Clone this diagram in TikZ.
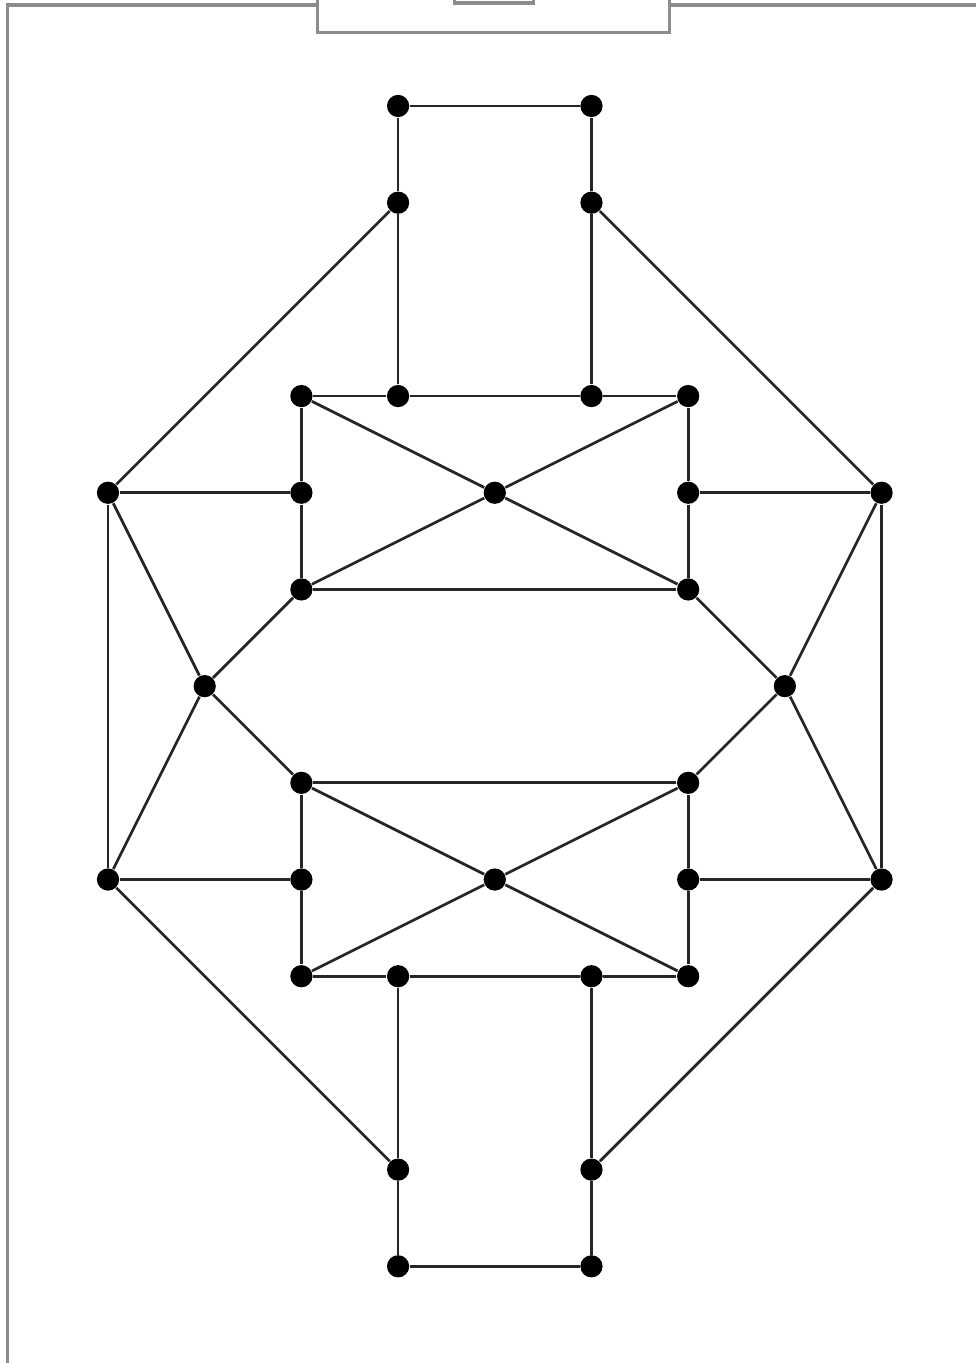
\documentclass[tikz,border=0pt]{standalone}
\usepackage{tikz}
\usepackage{xcolor}

\begin{document}
\begin{tikzpicture}[dot/.style={circle,fill=black,inner sep=0pt,minimum size=0.23cm},
  edge/.style={line width=0.8pt,black!85},
  frame/.style={line width=0.9pt,black!45}]
\useasboundingbox (-1.117,1.096) rectangle (8.976,-13.0);
% page frame
\draw[frame] (-1.044,-13.0) -- (-1.044,1.044) -- (2.17,1.044);
\draw[frame] (5.81,1.044) -- (8.976,1.044);
\draw[frame] (2.17,1.096) -- (2.17,0.755) -- (5.81,0.755) -- (5.81,1.096);
\draw[frame] (3.58,1.096) -- (3.58,1.065) -- (4.40,1.065) -- (4.40,1.096);
% vertices
\foreach \x/\y in {3/0,5/0,3/1,5/1,2/3,3/3,5/3,6/3,0/4,2/4,4/4,6/4,8/4,2/5,6/5,1/6,7/6,
  2/7,6/7,0/8,2/8,4/8,6/8,8/8,2/9,3/9,5/9,6/9,3/11,5/11,3/12,5/12}
  \node[dot] (p\x-\y) at (\x,-\y) {};
% edges
\foreach \a/\b in {3-0/5-0,3-0/3-1,5-0/5-1,3-1/3-3,5-1/5-3,3-1/0-4,5-1/8-4,
  2-3/3-3,3-3/5-3,5-3/6-3,2-3/2-4,2-4/2-5,6-3/6-4,6-4/6-5,
  2-3/4-4,4-4/6-5,6-3/4-4,4-4/2-5,2-5/6-5,0-4/2-4,6-4/8-4,
  0-4/0-8,8-4/8-8,0-4/1-6,1-6/2-5,1-6/0-8,1-6/2-7,
  8-4/7-6,7-6/6-5,7-6/8-8,7-6/6-7,
  2-7/6-7,2-7/2-8,2-8/2-9,6-7/6-8,6-8/6-9,
  2-7/4-8,4-8/6-9,6-7/4-8,4-8/2-9,0-8/2-8,6-8/8-8,
  2-9/3-9,3-9/5-9,5-9/6-9,3-9/3-11,5-9/5-11,3-11/3-12,5-11/5-12,3-12/5-12,
  0-8/3-11,8-8/5-11}
  \draw[edge] (p\a) -- (p\b);
\end{tikzpicture}
\end{document}
